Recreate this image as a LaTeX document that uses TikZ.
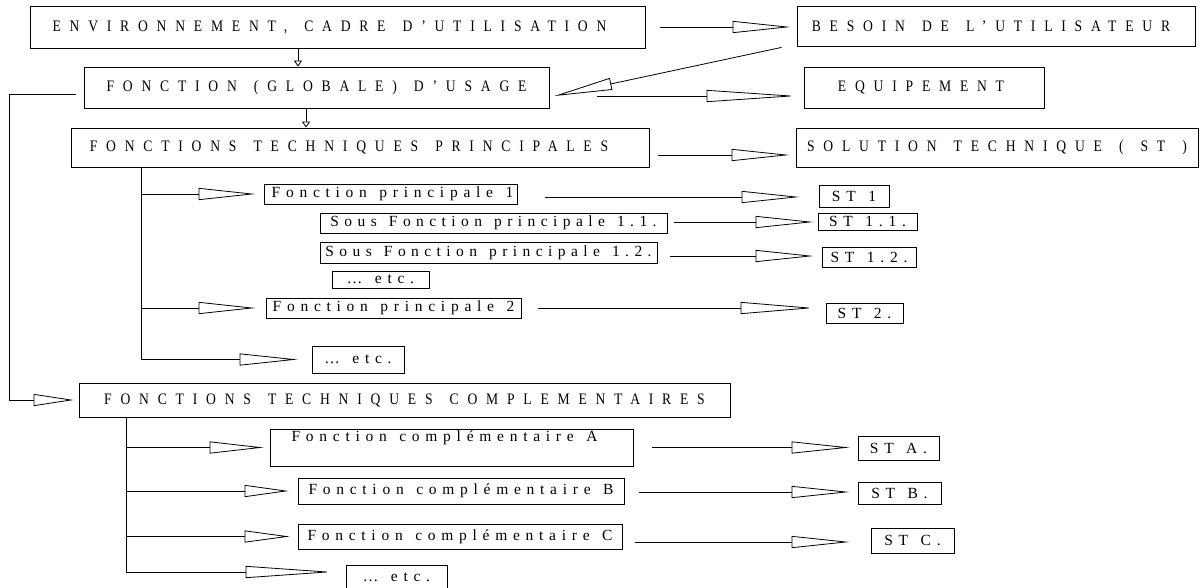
\documentclass[tikz,border=0pt]{standalone}
\usepackage{fontspec}
\setmainfont{Liberation Serif}
\newfontfamily\capsfont[LetterSpace=55, WordSpace=1.4, FakeStretch=0.85]{Liberation Serif}
\newfontfamily\lowfont[LetterSpace=37, WordSpace=1.3]{Liberation Serif}
\newfontfamily\lowtightfont[LetterSpace=35, WordSpace=1.3]{Liberation Serif}
\usetikzlibrary{arrows.meta}
% move a label sideways inside its box (negative = to the left)
\newcommand\nudge[1]{\hspace*{#1}}

\tikzset{
  box/.style={draw, line width=0.8pt, inner sep=0pt, anchor=center},
  capbox/.style={box, font=\capsfont\fontsize{16}{19}\selectfont},
  lowbox/.style={box, font=\lowfont\fontsize{15.5}{18}\selectfont},
  subbox/.style={box, font=\lowtightfont\fontsize{15.5}{18}\selectfont},
  plain/.style={draw, line width=0.8pt},
  conn/.style={plain, -{Triangle[open, length=#1, width=12pt, line width=0.8pt]}},
  conn/.default=58pt,
  drop/.style={plain, -{Triangle[open, length=6pt, width=8pt, line width=0.8pt]}},
}

\begin{document}
\begin{tikzpicture}[x=1pt, y=-1pt]
\useasboundingbox (0,0) rectangle (1203,587);
\fill[white] (0,0) rectangle (1203,587);

% --- upper chain ---
\node[capbox, minimum width=615pt, minimum height=42pt] (env) at (337.5,27) {\nudge{-16pt}ENVIRONNEMENT, CADRE D’UTILISATION};
\node[capbox, minimum width=398pt, minimum height=40pt] (besoin) at (996,26) {\nudge{-10pt}BESOIN DE L’UTILISATEUR};
\node[capbox, minimum width=465pt, minimum height=41pt] (usage) at (316.5,87.5) {FONCTION (GLOBALE) D’USAGE};
\node[capbox, minimum width=240pt, minimum height=41pt] (equip) at (924,87.5) {\nudge{-6pt}EQUIPEMENT};
\node[capbox, minimum width=578pt, minimum height=39pt] (ftp) at (360,147.5) {\nudge{-22pt}FONCTIONS TECHNIQUES PRINCIPALES};
\node[capbox, minimum width=402pt, minimum height=39pt] (st) at (997,147.5) {SOLUTION TECHNIQUE ( ST )};

% --- principal functions ---
\node[lowbox, minimum width=253pt, minimum height=20pt] (fp1) at (390.5,194) {\nudge{4pt}Fonction principale 1};
\node[lowbox, minimum width=70pt, minimum height=22pt] (st1) at (854,196) {ST 1};
\node[subbox, minimum width=347pt, minimum height=20pt] (sfp11) at (493.5,223) {Sous Fonction principale 1.1.};
\node[lowbox, minimum width=99pt, minimum height=17pt] (st11) at (867.5,221.5) {ST 1.1.};
\node[subbox, minimum width=337pt, minimum height=21pt] (sfp12) at (488.5,252.5) {Sous Fonction principale 1.2.};
\node[lowbox, minimum width=94pt, minimum height=20pt] (st12) at (869,257) {ST 1.2.};
\node[lowbox, minimum width=97pt, minimum height=17pt] (etc1) at (380.5,279.5) {… etc.};
\node[lowbox, minimum width=255pt, minimum height=20pt] (fp2) at (393.5,308) {Fonction principale 2};
\node[lowbox, minimum width=77pt, minimum height=20pt] (st2) at (864.5,313) {ST 2.};
\node[lowbox, minimum width=92pt, minimum height=27pt] (etc2) at (358,359.5) {… etc.};

% --- complementary functions ---
\node[capbox, minimum width=651pt, minimum height=34pt] (ftc) at (404.5,400) {FONCTIONS TECHNIQUES COMPLEMENTAIRES};
\node[lowbox, minimum width=363pt, minimum height=37pt, text depth=23pt] (fca) at (451.5,447.5) {\nudge{-14pt}Fonction complémentaire A};
\node[lowbox, minimum width=81pt, minimum height=24pt] (sta) at (898.5,448) {ST A.};
\node[lowbox, minimum width=326pt, minimum height=26pt] (fcb) at (461,491) {Fonction complémentaire B};
\node[lowbox, minimum width=83pt, minimum height=22pt] (stb) at (899.5,493) {ST B.};
\node[lowbox, minimum width=324pt, minimum height=25pt] (fcc) at (460,536.5) {Fonction complémentaire C};
\node[lowbox, minimum width=83pt, minimum height=25pt] (stc) at (912.5,540.5) {ST C.};
\node[lowbox, minimum width=101pt, minimum height=25pt] (etc3) at (396.5,577.5) {… etc.};

% --- connectors of the upper chain ---
\draw[conn] ([shift={(15,0)}]env.east) -- ([shift={(-6,1)}]besoin.west);
\draw[drop] ([xshift=-39.5pt]env.south) -- ([xshift=-39.5pt]env.south |- usage.north);
\draw[conn] ([shift={(-15,1)}]besoin.south west) -- ([shift={(5,8.5)}]usage.east);
\draw[conn=90pt] ([shift={(48,8.5)}]usage.east) -- ([shift={(-7,8.5)}]equip.west);
\draw[drop] ([xshift=-10.5pt]usage.south) -- ([xshift=-10.5pt]usage.south |- ftp.north);
\draw[conn] ([shift={(9,7.5)}]ftp.east) -- ([shift={(-6,7.5)}]st.west);

% --- return line to the complementary functions ---
\draw[conn=40pt] ([shift={(-8,6.5)}]usage.west) -- ++(-66,0) |- ([xshift=-5pt]ftc.west);

% --- tree of principal functions ---
\draw[conn] ([xshift=-219pt]ftp.south) |- ([xshift=-14pt]etc2.west);
\draw[conn=57pt] ([xshift=-219pt]ftp.south |- fp1.west) -- ([xshift=-8pt]fp1.west);
\draw[conn=57pt] ([xshift=-219pt]ftp.south |- fp2.west) -- ([xshift=-10pt]fp2.west);

\draw[conn] ([shift={(28,3)}]fp1.east) -- ([shift={(-19,1)}]st1.west);
\draw[conn] ([shift={(7,-1)}]sfp11.east) -- ([shift={(-4,0.5)}]st11.west);
\draw[conn] ([shift={(13,3.5)}]sfp12.east) -- ([shift={(-8,-1)}]st12.west);
\draw[conn=73pt] ([shift={(17,0)}]fp2.east) -- ([shift={(-12,-5)}]st2.west);

% --- tree of complementary functions ---
\draw[conn=87pt] ([xshift=-278.5pt]ftc.south) |- ([shift={(-13,-5.5)}]etc3.west);
\draw[conn=54pt] ([xshift=-278.5pt]ftc.south |- fca.west) -- ([xshift=-6pt]fca.west);
\draw[conn=44pt] ([xshift=-278.5pt]ftc.south |- fcb.west) -- ([xshift=-9pt]fcb.west);
\draw[conn=45pt] ([xshift=-278.5pt]ftc.south |- fcc.west) -- ([xshift=-8pt]fcc.west);

\draw[conn] ([shift={(19,0)}]fca.east) -- ([shift={(-8,-0.5)}]sta.west);
\draw[conn] ([shift={(15,1)}]fcb.east) -- ([shift={(-8,-1)}]stb.west);
\draw[conn] ([shift={(13,5.5)}]fcc.east) -- ([shift={(-21,1.5)}]stc.west);
\end{tikzpicture}
\end{document}
